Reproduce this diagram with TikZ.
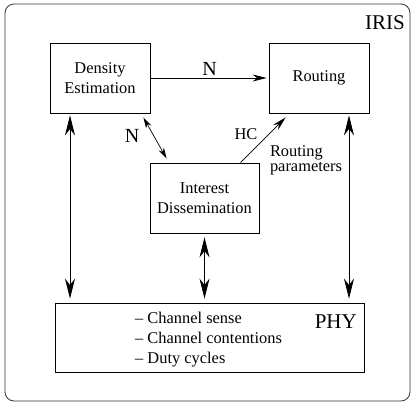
\documentclass[tikz,border=0pt]{standalone}
\usepackage{fontspec}
\setmainfont{Liberation Serif}
\usetikzlibrary{arrows.meta,calc}
\begin{document}
\begin{tikzpicture}[x=1bp,y=-1bp,
  every node/.style={font=\fontsize{16.4bp}{20bp}\selectfont},
  blockbox/.style={draw,line width=0.8bp,inner sep=0pt,align=center},
  bigtext/.style={font=\fontsize{21bp}{24bp}\selectfont,inner sep=0pt},
  bigtip/.style={{Stealth[length=20bp,width=10bp]}-{Stealth[length=20bp,width=10bp]}},
  midtip/.style={-{Stealth[length=14bp,width=7bp]}},
  smalltip/.style={{Stealth[length=11bp,width=6bp]}-{Stealth[length=11bp,width=6bp]}},
  conn/.style={line width=0.7bp}]
\useasboundingbox (0,0) rectangle (411,403);
\draw[line width=0.8bp,black!80,rounded corners=9bp] (5,4) rectangle (410,401);
\node[bigtext,anchor=base east] (iris) at (405,29) {IRIS};
\node[blockbox,minimum width=100bp,minimum height=70bp] (de) at (100,78) {Density\\Estimation};
\node[blockbox,minimum width=100bp,minimum height=70bp] (rt) at (319,78) {Routing};
\node[blockbox,minimum width=109bp,minimum height=70bp] (id) at (204.5,198) {Interest\\Dissemination};
\node[blockbox,minimum width=309bp,minimum height=69bp] (phy) at (209.5,337.5) {};
\node[bigtext,anchor=base east] (phyl) at (357,328) {PHY};
\node[anchor=base west,inner sep=0pt] (l1) at (135,323) {-- Channel sense};
\node[anchor=base west,inner sep=0pt] (l2) at (135,343) {-- Channel contentions};
\node[anchor=base west,inner sep=0pt] (l3) at (135,363) {-- Duty cycles};
\coordinate (lx) at (70,0);
\coordinate (rx) at (349,0);
\draw[conn,midtip,shorten >=2bp] (de.east) -- (rt.west) node[midway,above=2bp,bigtext,font=\fontsize{20bp}{24bp}\selectfont] (n1) {N};
\draw[conn,bigtip,shorten <=2bp,shorten >=4bp] (de.south -| lx) -- (phy.north -| lx);
\draw[conn,bigtip,shorten <=2bp,shorten >=4bp] (rt.south -| rx) -- (phy.north -| rx);
\draw[conn,bigtip,shorten <=4bp,shorten >=4bp] (id.south) -- (phy.north -| id.south);
\draw[conn,smalltip] ($(de.south east)+(-7,4)$) -- ($(id.north west)+(17,-4)$);
\node[font=\fontsize{20bp}{24bp}\selectfont] (n2) at (132,136) {N};
\draw[conn,midtip] ($(id.north west)+(91,0)$) -- ($(rt.south west)+(17,4)$);
\node (hc) at (246,134) {HC};
\node[align=left,inner sep=0pt,font=\fontsize{16.4bp}{15bp}\selectfont] (rp) at (306,160) {Routing\\parameters};
\end{tikzpicture}
\end{document}
